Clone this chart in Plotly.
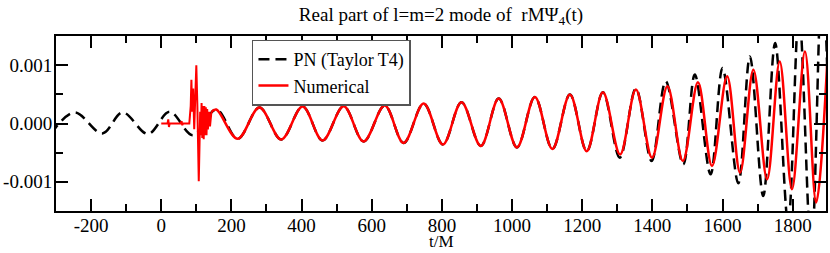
import plotly.graph_objects as go

# ---- data ----
# PN (Taylor T4): extrema of the waveform (t/M, value)
pn_t = [-315, -247, -168, -110, -38, 24, 90, 157, 218, 280, 342, 403, 460, 520, 577, 637,
        691, 748, 803, 856, 911, 962, 1014, 1065, 1115, 1165, 1213, 1259, 1307, 1353, 1398,
        1438, 1488, 1521, 1566, 1600, 1645, 1678, 1716, 1750, 1787, 1818, 1853, 1884, 1915]
pn_y = [-0.00018, 0.00019, -0.00017, 0.00019, -0.00018, 0.00020, -0.00020, 0.000239, -0.000262,
        0.000274, -0.000274, 0.000291, -0.000291, 0.000296, -0.000308, 0.000308, -0.000333,
        0.000342, -0.000359, 0.000364, -0.000385, 0.000427, -0.000410, 0.000455, -0.000436,
        0.000496, -0.000474, 0.000535, -0.000586, 0.000598, -0.000644, 0.000723, -0.000701,
        0.000838, -0.000872, 0.000952, -0.001026, 0.00115, -0.001243, 0.00138, -0.0017,
        0.0019, -0.0022, 0.0026, -0.0030]

# Numerical: early junk radiation (t/M, value)
junk_t = [0, 18, 20, 22, 24, 55, 58, 60, 62, 80, 84, 86, 88, 91, 94, 97, 100, 103, 105, 107,
          109, 111, 113, 115, 117, 119, 121, 123, 125, 127, 129, 131, 133, 136, 139, 143]
junk_y = [0, 0, 0.00007, -0.00006, 0, 0, 0.00004, -0.00003, 0, 0, 0.0003, 0.00075, 0.0002,
          0.0006, -0.0001, 0.0005, 0.001, 0.0003, -0.0004, -0.00099, -0.0004, 0.0002, -0.0002,
          0.00035, -0.00025, 0.0003, -0.00027, 0.0003, -0.0002, 0.00028, -0.0002, 0.00025,
          -0.0001, 0.0002, -0.00005, 0.0002]

# Numerical: extrema of the smooth part (t/M, value)
num_t = [143, 157, 218, 280, 342, 403, 460, 520, 577, 637, 691, 748, 803, 856, 911, 962, 1014,
         1065, 1115, 1165, 1213, 1259, 1308, 1353, 1399, 1443, 1487, 1530, 1570, 1613, 1650,
         1688, 1727, 1763, 1798, 1835, 1867, 1904]
num_y = [0.0002, 0.000239, -0.000262, 0.000274, -0.000274, 0.000291, -0.000291, 0.000296,
         -0.000308, 0.000308, -0.000333, 0.000342, -0.000359, 0.000364, -0.000385, 0.000427,
         -0.000410, 0.000455, -0.000436, 0.000496, -0.000474, 0.000535, -0.000530, 0.000581,
         -0.000586, 0.000638, -0.000644, 0.000706, -0.000730, 0.000809, -0.000842, 0.000923,
         -0.000957, 0.001065, -0.001128, 0.001236, -0.001356, 0.0017]

x_tick_vals = [-200, 0, 200, 400, 600, 800, 1000, 1200, 1400, 1600, 1800]
x_tick_text = ["-200", "0", "200", "400", "600", "800", "1000", "1200", "1400", "1600", "1800"]
y_tick_vals = [-0.001, 0.0, 0.001]
y_tick_text = ["-0.001", "0.000", "0.001"]

FONT = "Liberation Serif"

fig = go.Figure()
fig.add_trace(go.Scatter(x=pn_t, y=pn_y, mode="lines", name="PN (Taylor T4)",
                         line=dict(color="black", width=2.5, dash="11px,6px",
                                   shape="spline", smoothing=1.0)))
fig.add_trace(go.Scatter(x=junk_t, y=junk_y, mode="lines", name="Numerical",
                         legendgroup="num", showlegend=False,
                         line=dict(color="#ff0000", width=2)))
fig.add_trace(go.Scatter(x=num_t, y=num_y, mode="lines", name="Numerical",
                         legendgroup="num",
                         line=dict(color="#ff0000", width=2.5, shape="spline", smoothing=1.0)))

axis_common = dict(showline=True, linewidth=2, linecolor="black", mirror="allticks",
                   ticks="inside", ticklen=12, tickwidth=2, tickcolor="black",
                   showgrid=False, zeroline=False, automargin=False,
                   tickfont=dict(family=FONT, size=19, color="black"))

fig.update_xaxes(range=[-300, 1895], tickmode="array", tickvals=x_tick_vals,
                 ticktext=x_tick_text, ticklabelstandoff=-4,
                 minor=dict(ticks="inside", ticklen=7, tickwidth=2, tickcolor="black",
                            tickmode="linear", tick0=0, dtick=100),
                 **axis_common)
fig.update_yaxes(range=[-0.0015, 0.0015], tickmode="array", tickvals=y_tick_vals,
                 ticktext=y_tick_text, ticklabelstandoff=-2,
                 minor=dict(ticks="inside", ticklen=7, tickwidth=2, tickcolor="black",
                            tickmode="linear", tick0=0, dtick=0.0005),
                 **axis_common)

fig.update_layout(
    width=830, height=253,
    margin=dict(l=56, r=4, t=36, b=42, autoexpand=False),
    paper_bgcolor="white", plot_bgcolor="white",
    font=dict(family=FONT, size=18, color="black"),
    title=dict(text="Real part of l=m=2 mode of  rMΨ<sub>4</sub>(t)",
               font=dict(family=FONT, size=19, color="black"),
               x=0.5, xref="paper", xanchor="center",
               y=1 - 14 / 253, yref="container", yanchor="middle"),
    showlegend=True,
    legend=dict(x=0.2545, y=0.98, xanchor="left", yanchor="top",
                bgcolor="white", bordercolor="#555555", borderwidth=1.5,
                font=dict(family=FONT, size=18, color="black"),
                tracegroupgap=0, itemwidth=30),
    annotations=[dict(text="t/M", x=0.5, xref="paper", y=-(252 - 211) / 175, yref="paper",
                      xanchor="center", yanchor="bottom", showarrow=False, borderpad=0,
                      font=dict(family=FONT, size=17, color="black"))],
)

fig.write_html("out.html", config={"displayModeBar": False},
               post_script="document.body.style.margin='0';")
